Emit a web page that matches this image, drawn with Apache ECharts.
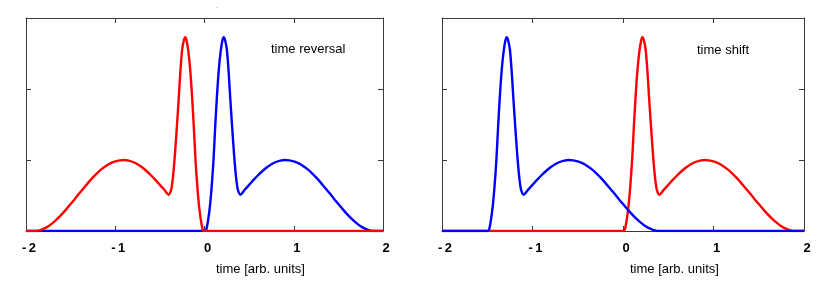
<!DOCTYPE html>
<html>
<head>
<meta charset="utf-8">
<script src="https://cdn.jsdelivr.net/npm/echarts@6/dist/echarts.min.js"></script>
<style>
html,body{margin:0;padding:0;background:#fff;}
#c{width:817px;height:285px;}
</style>
</head>
<body>
<div id="c"></div>
<script>
// ---- data ----
const xTickValues = [-2, -1, 0, 1, 2];
const xTickLabels = ['-\u20092', '-\u20091', '0', '1', '2'];
const axisTitle = 'time [arb. units]';
const panelTitles = ['time reversal', 'time shift'];

// left panel ("time reversal")
const revBlue = [
  [-2,0],[0.00,0],[0.02,0.02],[0.04,0.15],[0.06,0.34],[0.08,0.62],[0.10,0.98],[0.12,1.47],[0.14,1.91],
  [0.16,2.27],[0.18,2.52],[0.20,2.68],[0.215,2.73],[0.23,2.69],[0.25,2.56],[0.27,2.25],[0.29,1.84],
  [0.31,1.46],[0.33,1.10],[0.35,0.80],[0.37,0.60],[0.385,0.54],[0.40,0.51],[0.45,0.58],[0.50,0.65],
  [0.55,0.72],[0.60,0.785],[0.65,0.845],[0.70,0.897],[0.75,0.94],[0.80,0.972],[0.85,0.992],[0.90,1.00],
  [0.95,0.995],[1.00,0.98],[1.05,0.955],[1.10,0.92],[1.15,0.875],[1.20,0.82],[1.25,0.755],[1.30,0.685],
  [1.35,0.61],[1.40,0.535],[1.45,0.455],[1.50,0.38],[1.55,0.305],[1.60,0.235],[1.65,0.17],[1.70,0.115],
  [1.75,0.068],[1.80,0.033],[1.85,0.01],[1.90,0],[2,0]
];
const revRed = [
  [-2,0],[-1.90,0],[-1.85,0.01],[-1.80,0.033],[-1.75,0.068],[-1.70,0.115],[-1.65,0.17],[-1.60,0.235],
  [-1.55,0.305],[-1.50,0.38],[-1.45,0.455],[-1.40,0.535],[-1.35,0.61],[-1.30,0.685],[-1.25,0.755],
  [-1.20,0.82],[-1.15,0.875],[-1.10,0.92],[-1.05,0.955],[-1.00,0.98],[-0.95,0.995],[-0.90,1.00],
  [-0.85,0.992],[-0.80,0.972],[-0.75,0.94],[-0.70,0.897],[-0.65,0.845],[-0.60,0.785],[-0.55,0.72],
  [-0.50,0.65],[-0.45,0.58],[-0.40,0.51],[-0.385,0.54],[-0.37,0.60],[-0.35,0.80],[-0.33,1.10],
  [-0.31,1.46],[-0.29,1.84],[-0.27,2.25],[-0.25,2.56],[-0.23,2.69],[-0.215,2.73],[-0.20,2.68],
  [-0.18,2.52],[-0.16,2.27],[-0.14,1.91],[-0.12,1.47],[-0.10,0.98],[-0.08,0.62],[-0.06,0.34],
  [-0.04,0.15],[-0.02,0.02],[0,0],[2,0]
];

// right panel ("time shift")
const shiftRed = [
  [-2,0],[0.00,0],[0.02,0.02],[0.04,0.15],[0.06,0.34],[0.08,0.62],[0.10,0.98],[0.12,1.47],[0.14,1.91],
  [0.16,2.27],[0.18,2.52],[0.20,2.68],[0.215,2.73],[0.23,2.69],[0.25,2.56],[0.27,2.25],[0.29,1.84],
  [0.31,1.46],[0.33,1.10],[0.35,0.80],[0.37,0.60],[0.385,0.54],[0.40,0.51],[0.45,0.58],[0.50,0.65],
  [0.55,0.72],[0.60,0.785],[0.65,0.845],[0.70,0.897],[0.75,0.94],[0.80,0.972],[0.85,0.992],[0.90,1.00],
  [0.95,0.995],[1.00,0.98],[1.05,0.955],[1.10,0.92],[1.15,0.875],[1.20,0.82],[1.25,0.755],[1.30,0.685],
  [1.35,0.61],[1.40,0.535],[1.45,0.455],[1.50,0.38],[1.55,0.305],[1.60,0.235],[1.65,0.17],[1.70,0.115],
  [1.75,0.068],[1.80,0.033],[1.85,0.01],[1.90,0],[2,0]
];
const shiftBlue = [
  [-2,0],[-1.50,0],[-1.48,0.02],[-1.46,0.15],[-1.44,0.34],[-1.42,0.62],[-1.40,0.98],[-1.38,1.47],
  [-1.36,1.91],[-1.34,2.27],[-1.32,2.52],[-1.30,2.68],[-1.285,2.73],[-1.27,2.69],[-1.25,2.56],
  [-1.23,2.25],[-1.21,1.84],[-1.19,1.46],[-1.17,1.10],[-1.15,0.80],[-1.13,0.60],[-1.115,0.54],
  [-1.10,0.51],[-1.05,0.58],[-1.00,0.65],[-0.95,0.72],[-0.90,0.785],[-0.85,0.845],[-0.80,0.897],
  [-0.75,0.94],[-0.70,0.972],[-0.65,0.992],[-0.60,1.00],[-0.55,0.995],[-0.50,0.98],[-0.45,0.955],
  [-0.40,0.92],[-0.35,0.875],[-0.30,0.82],[-0.25,0.755],[-0.20,0.685],[-0.15,0.61],[-0.10,0.535],
  [-0.05,0.455],[0.00,0.38],[0.05,0.305],[0.10,0.235],[0.15,0.17],[0.20,0.115],[0.25,0.068],
  [0.30,0.033],[0.35,0.01],[0.40,0],[2,0]
];

// ---- chart ----
const FONT = "'Liberation Sans', Arial, sans-serif";
const FRAME = '#3a3a3a';
const RED = '#ff0000', BLUE = '#0000ff';

function xAxes(gi) {
  const common = {
    type: 'value', gridIndex: gi, min: -2, max: 2, interval: 1,
    axisLine: { show: true, onZero: false, lineStyle: { color: FRAME, width: 1 } },
    axisTick: { show: true, inside: true, length: 5, lineStyle: { color: FRAME } },
    splitLine: { show: false }
  };
  return [
    Object.assign({}, common, {
      position: 'bottom',
      axisLabel: {
        show: true, margin: 11, padding: [0, 0, 0, 6],
        fontFamily: FONT, fontSize: 13, fontWeight: 'bold', color: '#000',
        formatter: v => {
          const i = xTickValues.indexOf(v);
          return i >= 0 ? xTickLabels[i] : '';
        }
      }
    }),
    Object.assign({}, common, { position: 'top', axisLabel: { show: false } })
  ];
}
function yAxes(gi) {
  const common = {
    type: 'value', gridIndex: gi, min: 0, max: 3, interval: 1,
    axisLine: { show: true, onZero: false, lineStyle: { color: FRAME, width: 1 } },
    axisTick: { show: true, inside: true, length: 5, lineStyle: { color: FRAME } },
    axisLabel: { show: false },
    splitLine: { show: false }
  };
  return [
    Object.assign({}, common, { position: 'left' }),
    Object.assign({}, common, { position: 'right' })
  ];
}
function line(data, color, xi, yi, z) {
  return {
    type: 'line', data: data, xAxisIndex: xi, yAxisIndex: yi,
    showSymbol: false, symbol: 'none', smooth: 0.25, z: z, animation: false,
    lineStyle: { color: color, width: 2.4 }
  };
}

const chart = echarts.init(document.getElementById('c'), null, { renderer: 'canvas' });
chart.setOption({
  animation: false,
  backgroundColor: '#fff',
  grid: [
    { left: 26, right: 434, top: 18, bottom: 54 },
    { left: 442, right: 13, top: 18, bottom: 54 }
  ],
  xAxis: xAxes(0).concat(xAxes(1)),
  yAxis: yAxes(0).concat(yAxes(1)),
  series: [
    line(revBlue, BLUE, 0, 0, 2),
    line(revRed, RED, 0, 0, 3),
    line(shiftRed, RED, 2, 2, 2),
    line(shiftBlue, BLUE, 2, 2, 3)
  ],
  graphic: [
    { type: 'text', x: 271, y: 49, style: { text: panelTitles[0], fontFamily: FONT, fontSize: 13, fill: '#000', align: 'left', verticalAlign: 'middle' } },
    { type: 'text', x: 697, y: 50, style: { text: panelTitles[1], fontFamily: FONT, fontSize: 13, fill: '#000', align: 'left', verticalAlign: 'middle' } },
    { type: 'text', x: 216, y: 269, style: { text: axisTitle, fontFamily: FONT, fontSize: 13, fill: '#000', align: 'left', verticalAlign: 'middle' } },
    { type: 'text', x: 630, y: 269, style: { text: axisTitle, fontFamily: FONT, fontSize: 13, fill: '#000', align: 'left', verticalAlign: 'middle' } },
    { type: 'text', x: 217, y: 7, style: { text: '-', fontFamily: FONT, fontSize: 6, fill: '#999', align: 'center', verticalAlign: 'middle' } }
  ]
});
</script>
</body>
</html>
